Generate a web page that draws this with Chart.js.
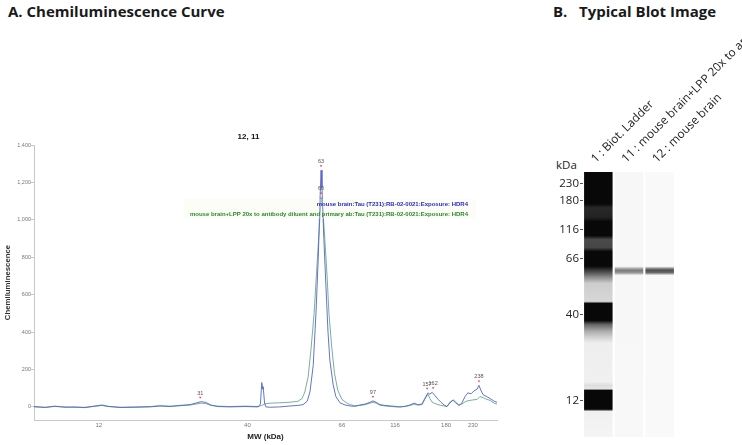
<!DOCTYPE html>
<html>
<head>
<meta charset="utf-8">
<script src="https://cdn.jsdelivr.net/npm/chart.js@4"></script>
<style>
  body { margin: 0; width: 742px; height: 445px; background: #fff; position: relative; overflow: hidden; font-family: "Open Sans", sans-serif; }
  .head { position: absolute; top: 1px; font-weight: 700; font-size: 15px; color: #1a1a1a; white-space: pre; }
  #boxA { position: absolute; left: 0; top: 125px; width: 498px; height: 320px; }
  #boxB { position: absolute; left: 500px; top: 20px; width: 242px; height: 425px; }
  #kda { position: absolute; left: 556px; top: 157px; font-size: 11.5px; color: #222; }
</style>
</head>
<body>
<div class="head" style="left:8px">A. Chemiluminescence Curve</div>
<div class="head" style="left:553px">B.   Typical Blot Image</div>
<div id="kda">kDa</div>
<div id="boxA"><canvas id="curve"></canvas></div>
<div id="boxB"><canvas id="blot"></canvas></div>
<script>
// x positions are migration position along the capillary (0-100)
const xTickPos = [14.0, 46.1, 66.5, 78.0, 89.0, 94.8];
const xTickLabels = ['12', '40', '66', '116', '180', '230'];
const yTickValues = [0, 200, 400, 600, 800, 1000, 1200, 1400];

const blueName = 'mouse brain:Tau (T231):RB-02-0021:Exposure: HDR4';
const greenName = 'mouse brain+LPP 20x to antibody diluent and primary ab:Tau (T231):RB-02-0021:Exposure: HDR4';

const blueX = [0, 2.4, 4.5, 6.7, 8.9, 11.0, 13.2, 14.7, 16.0, 18.6, 21.8, 25.1, 27.2, 29.4, 31.5, 33.7, 35.2, 36.1, 37.1, 38.2, 39.7,
  42.3, 45.6, 48.4, 48.9, 49.2, 49.4, 49.5, 49.8, 50.1, 51.0, 53.1, 55.3, 57.0, 58.1, 59.0, 59.6, 60.3, 60.9, 61.4, 61.8, 62.0,
  62.2, 62.6, 63.1, 63.5, 63.9, 64.6, 65.2, 66.1, 67.2, 68.3, 69.3, 70.4, 71.5, 72.6, 73.2, 73.9, 74.7, 75.8, 76.9, 78.0, 79.0,
  80.1, 81.2, 82.1, 82.9, 83.8, 84.4, 85.1, 85.5, 86.0, 86.6, 87.3, 87.9, 88.6, 89.2, 89.8, 90.5, 91.1, 91.8, 92.4, 93.1, 93.7,
  94.4, 95.0, 95.7, 96.1, 96.5, 97.0, 97.8, 98.5, 99.4, 100];
const blueY = [2, -3, 3, -2, 0, -4, 5, 10, 3, -3, -2, 0, 5, 2, 8, 12, 22, 28, 24, 10, 2,
  0, 2, 0, 15, 130, 95, 108, 20, 0, -2, 0, 5, 8, 12, 30, 80, 220, 500, 800, 1130, 1265,
  1170, 900, 620, 400, 250, 120, 55, 22, 10, 5, 3, 10, 15, 25, 32, 25, 12, 8, 5, 3, 0,
  3, 10, 20, 12, 15, 45, 75, 68, 78, 60, 40, 25, 10, 2, 20, 38, 25, 8, 20, 55, 75,
  70, 85, 95, 115, 90, 65, 55, 45, 30, 25];

const greenX = [0, 2.4, 4.5, 6.7, 8.9, 11.0, 13.2, 14.7, 16.0, 18.6, 21.8, 25.1, 27.2, 29.4, 31.5, 33.7, 35.2, 36.1, 37.1, 38.2, 39.7,
  42.3, 45.6, 48.4, 49.2, 50.1, 51.0, 53.1, 55.3, 57.0, 57.9, 58.5, 59.2, 59.8, 60.5, 61.1, 61.6, 62.0, 62.4, 62.8, 63.3, 63.7,
  64.3, 64.9, 65.6, 66.5, 67.6, 68.3, 69.3, 70.4, 71.5, 72.6, 73.2, 73.9, 74.7, 75.8, 76.9, 78.0, 79.0, 80.1, 81.2, 82.1, 82.9,
  83.8, 84.4, 85.1, 85.5, 86.0, 86.6, 87.3, 87.9, 88.6, 89.2, 89.8, 90.5, 91.1, 91.8, 92.4, 93.3, 94.2, 95.0, 95.7, 96.3, 97.0,
  97.8, 98.5, 99.4, 100];
const greenY = [0, -2, 4, 0, -3, -2, 3, 8, 2, -2, 0, 2, 6, 4, 6, 10, 16, 20, 18, 8, 4,
  2, 4, 2, 8, 18, 20, 22, 25, 30, 45, 80, 160, 300, 500, 750, 950, 1120, 1050, 900, 700, 500,
  320, 180, 90, 40, 20, 12, 6, 8, 12, 20, 25, 20, 10, 5, 3, 0, 0, 2, 8, 15, 10,
  12, 40, 68, 45, 25, 18, 12, 8, 5, 2, 25, 35, 20, 10, 15, 30, 35, 38, 40, 55, 50,
  40, 35, 20, 15];

// peak callouts: position, height, MW text
const peakPos = [35.9, 62.0, 62.0, 73.2, 84.9, 86.2, 96.1];
const peakVal = [28, 1265, 1120, 32, 75, 78, 115];
const peakText = ['31', '63', '60', '97', '157', '162', '238'];

// blot lanes
const laneLabels = ['1 : Biot. Ladder', '11 : mouse brain+LPP 20x to antibody diluent and primary ab', '12 : mouse brain'];
const blotTickPos = [4.5, 10.8, 21.8, 32.8, 53.8, 86.3];
const blotTickLabels = ['230', '180', '116', '66', '40', '12'];
// density profiles: [position, grey level]
const ladderProfile = [[0, 8], [12, 8], [13.5, 40], [17, 35], [18.7, 8], [24, 8], [25.5, 75], [28.5, 70], [30, 8], [35.5, 8],
  [37.5, 70], [40, 150], [42, 205], [48.8, 215], [49.6, 8], [56, 8], [57.5, 100], [60, 170], [62, 205], [64.5, 238],
  [79, 240], [80.5, 222], [81.8, 230], [82.4, 8], [89.5, 8], [90.3, 240], [100, 244]];
const lane11Profile = [[0, 247], [35.6, 247], [36.6, 150], [37.2, 125], [38.0, 150], [39.0, 247], [100, 248]];
const lane12Profile = [[0, 249], [35.6, 249], [36.6, 110], [37.2, 80], [38.0, 110], [39.0, 249], [100, 249]];
const laneProfiles = [ladderProfile, lane11Profile, lane12Profile];

const peakLabels = {
  id: 'peakLabels',
  afterDatasetsDraw(chart) {
    const {ctx, scales: {x, y}, chartArea} = chart;
    ctx.save();
    ctx.font = '5.5px "Liberation Sans"';
    ctx.textAlign = 'center';
    ctx.textBaseline = 'middle';
    peakPos.forEach((p, i) => {
      const px = x.getPixelForValue(p);
      const py = y.getPixelForValue(peakVal[i]);
      ctx.fillStyle = '#ee4444';
      ctx.beginPath();
      ctx.moveTo(px - 1.3, py - 5);
      ctx.lineTo(px + 1.3, py - 5);
      ctx.lineTo(px, py - 3);
      ctx.fill();
      ctx.fillStyle = '#555';
      ctx.fillText(peakText[i], px, py - 8.5);
    });
    // series names
    const rx = chartArea.left + 434;
    ctx.fillStyle = 'rgba(250, 250, 232, 0.3)';
    ctx.fillRect(chartArea.left + 150, chartArea.top + 54, 292, 20);
    ctx.font = 'bold 6px "Liberation Sans"';
    ctx.textAlign = 'right';
    ctx.fillStyle = '#2b2bc2';
    ctx.fillText(blueName, rx, chartArea.top + 59);
    ctx.fillStyle = '#2a8a2a';
    ctx.fillText(greenName, rx, chartArea.top + 69);
    ctx.restore();
  }
};

new Chart(document.getElementById('curve'), {
  type: 'line',
  data: {
    datasets: [
      { label: blueName, data: blueX.map((x, i) => ({x: x, y: blueY[i]})), borderColor: '#5263c8', borderWidth: 0.9, pointRadius: 0 },
      { label: greenName, data: greenX.map((x, i) => ({x: x, y: greenY[i]})), borderColor: '#6aa592', borderWidth: 0.9, pointRadius: 0 }
    ]
  },
  options: {
    responsive: true,
    maintainAspectRatio: false,
    animation: false,
    layout: { padding: { right: 1 } },
    plugins: {
      legend: { display: false },
      tooltip: { enabled: false },
      title: { display: true, text: '12, 11', color: '#111', font: { size: 8, weight: 'bold', family: 'Liberation Sans' }, padding: { top: 7, bottom: 3.4 } }
    },
    scales: {
      x: {
        type: 'linear', min: 0, max: 100,
        afterBuildTicks: s => { s.ticks = xTickPos.map(v => ({value: v})); },
        afterFit: s => { s.height = 25; },
        ticks: { autoSkip: false, maxRotation: 0, padding: 2, color: '#777', font: { size: 6, family: 'Liberation Sans' }, callback: (v, i) => xTickLabels[i] },
        grid: { drawOnChartArea: false, drawTicks: false, color: '#c8c8c8' },
        border: { color: '#c8c8c8' },
        title: { display: true, text: 'MW (kDa)', color: '#222', font: { size: 8, weight: 'bold', family: 'Liberation Sans' }, padding: { top: 0, bottom: 3 } }
      },
      y: {
        min: -70, max: 1400,
        afterBuildTicks: s => { s.ticks = yTickValues.map(v => ({value: v})); },
        afterFit: s => { s.width = 34; },
        ticks: { padding: 0, color: '#777', font: { size: 5.5, family: 'Liberation Sans' }, callback: v => v.toLocaleString('en-US') },
        grid: { drawOnChartArea: false, tickLength: 3, color: '#c8c8c8' },
        border: { color: '#c8c8c8' },
        title: { display: true, text: 'Chemiluminescence', color: '#333', font: { size: 7.8, weight: 'bold', family: 'Liberation Sans' }, padding: { top: 3.5 } }
      }
    }
  },
  plugins: [peakLabels]
});

function laneGradient(c) {
  const chart = c.chart;
  const y = chart.scales.y;
  if (!chart.chartArea || !y) return '#eee';
  const g = chart.ctx.createLinearGradient(0, y.getPixelForValue(0), 0, y.getPixelForValue(100));
  laneProfiles[c.dataIndex].forEach(([pos, v]) => g.addColorStop(pos / 100, `rgb(${v},${v},${v})`));
  return g;
}

new Chart(document.getElementById('blot'), {
  type: 'bar',
  data: {
    labels: laneLabels,
    datasets: [{ data: laneLabels.map(() => [0, 100]), backgroundColor: laneGradient, borderWidth: 0, barPercentage: 0.93, categoryPercentage: 1 }]
  },
  options: {
    responsive: true,
    maintainAspectRatio: false,
    animation: false,
    layout: { padding: { right: 67, bottom: 7 } },
    plugins: { legend: { display: false }, tooltip: { enabled: false } },
    scales: {
      x: {
        position: 'top',
        afterFit: s => { s.height = 152; },
        ticks: { autoSkip: false, minRotation: 45, maxRotation: 45, padding: -2, labelOffset: 5, color: '#222', font: { size: 11.8, family: 'Open Sans' } },
        grid: { display: false },
        border: { display: false }
      },
      y: {
        min: 0, max: 100, reverse: true,
        afterBuildTicks: s => { s.ticks = blotTickPos.map(v => ({value: v})); },
        afterFit: s => { s.width = 83; },
        ticks: { padding: 1, color: '#222', font: { size: 11.5, family: 'Open Sans' }, callback: (v, i) => blotTickLabels[i] },
        grid: { drawOnChartArea: false, tickLength: 3, color: '#555' },
        border: { display: false }
      }
    }
  }
});
</script>
</body>
</html>
